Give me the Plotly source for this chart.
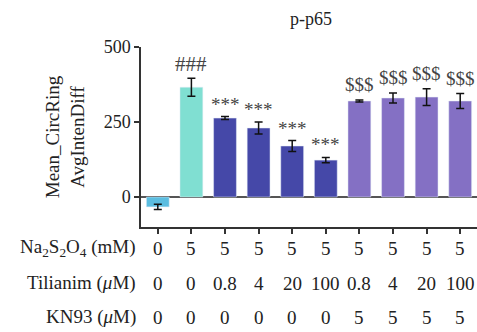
import plotly.graph_objects as go

categories = list(range(10))
means = [-33, 366, 263, 230, 170, 123, 320, 330, 333, 320]
errors = [9, 30, 5, 20, 18, 9, 3, 17, 28, 25]
colors = ["#5bbde0", "#80dfd2", "#4548a8", "#4548a8", "#4548a8", "#4548a8",
          "#8470c4", "#8470c4", "#8470c4", "#8470c4"]
sig_labels = ["", "###", "***", "***", "***", "***", "$$$", "$$$", "$$$", "$$$"]
na_row = ["0", "5", "5", "5", "5", "5", "5", "5", "5", "5"]
til_row = ["0", "0", "0.8", "4", "20", "100", "0.8", "4", "20", "100"]
kn_row = ["0", "0", "0", "0", "0", "0", "5", "5", "5", "5"]
row_names = ["Na<sub>2</sub>S<sub>2</sub>O<sub>4</sub> (mM)",
             "Tilianim (<i>μ</i>M)", "KN93 (<i>μ</i>M)"]

FONT = "Liberation Serif"
W, H = 477, 332
ML, MR, MT, MB = 141, 0, 47, 105

fig = go.Figure()
fig.add_trace(go.Bar(
    x=categories, y=means, marker_color=colors, width=0.68,
    error_y=dict(type="data", array=errors, color="#111111", thickness=1.5, width=4),
))

for i, (m, e, lab) in enumerate(zip(means, errors, sig_labels)):
    if not lab:
        continue
    shift = 0 if lab != "$$$" else 3
    size = 21 if lab == "###" else 19
    fig.add_annotation(x=i, y=m + e, text=lab, showarrow=False, yanchor="bottom",
                       yshift=shift, font=dict(family=FONT, size=size, color="#444444"))

row_y = [248, 283, 317]
for rname, row, py in zip(row_names, [na_row, til_row, kn_row], row_y):
    yp = 1 - (py - MT) / (H - MT - MB)
    for i, v in enumerate(row):
        fig.add_annotation(x=i, y=yp, xref="x", yref="paper", text=v, showarrow=False,
                           yanchor="middle", font=dict(family=FONT, size=19, color="#222222"))
    fig.add_annotation(x=(138 - ML) / (W - ML - MR), y=yp, xref="paper", yref="paper",
                       text=rname, showarrow=False, xanchor="right", yanchor="middle",
                       font=dict(family=FONT, size=19, color="#222222"))

fig.update_layout(
    width=W, height=H, margin=dict(l=ML, r=MR, t=MT, b=MB),
    plot_bgcolor="white", paper_bgcolor="white", showlegend=False,
    title=dict(text="p-p65", x=311 / W, xanchor="center", y=1 - 19 / H, yanchor="middle",
               font=dict(family=FONT, size=18, color="#222222")),
    font=dict(family=FONT, size=18, color="#222222"),
)
fig.update_xaxes(range=[-0.5, 9.5], showline=True, linecolor="#333333", linewidth=1.5,
                 ticks="outside", ticklen=5, tickwidth=1.5, tickcolor="#333333",
                 tickvals=categories, showticklabels=False, showgrid=False, zeroline=False,
                 fixedrange=True)
fig.update_yaxes(range=[-100, 500], showline=True, linecolor="#333333", linewidth=1.5,
                 ticks="outside", ticklen=5, tickwidth=1.5, tickcolor="#333333",
                 tickvals=[0, 250, 500], showgrid=False, zeroline=True,
                 zerolinecolor="#555555", zerolinewidth=1.5,
                 title=dict(text="Mean_CircRing<br>AvgIntenDiff", standoff=14,
                            font=dict(family=FONT, size=19)),
                 tickfont=dict(family=FONT, size=18))

fig.write_html("out.html", config={"displayModeBar": False},
               post_script="document.body.style.margin='0px';document.body.style.overflow='hidden';")
